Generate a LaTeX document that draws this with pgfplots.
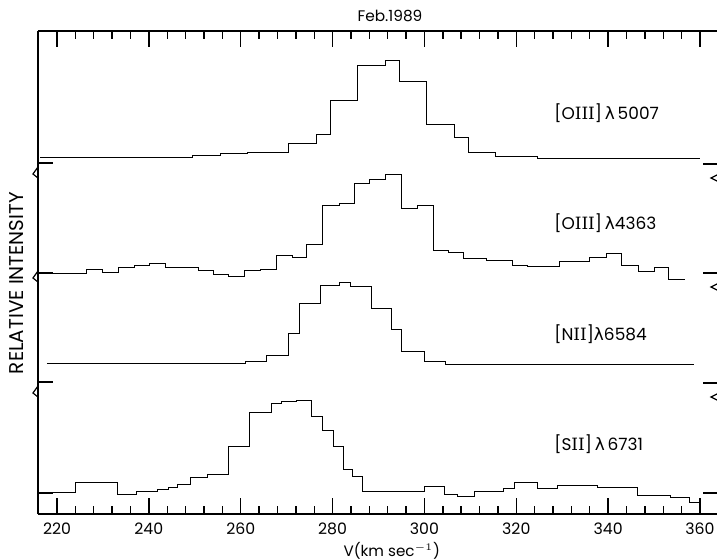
\documentclass[border=0pt]{standalone}
\usepackage{fontspec}
\setmainfont{Poppins}
\newfontfamily\symfont{DejaVu Sans}
\newfontfamily\romfont{DejaVu Serif}
\usepackage{pgfplots}
\pgfplotsset{compat=1.18}

\newcommand{\lam}{{\symfont λ}}
\newcommand{\rn}[1]{{\romfont #1}}

\begin{document}
\begin{tikzpicture}
\begin{axis}[
  scale only axis,
  width=339.5bp, height=241.5bp,
  xmin=215.86, xmax=363.7, ymin=0, ymax=483,
  axis x line*=box, axis y line*=left,
  axis line style={line width=0.8pt},
  xtick={220,240,...,360},
  minor xtick={216,220,...,360},
  ytick=\empty,
  tick align=inside,
  major tick length=8bp, minor tick length=4bp,
  every tick/.style={line width=0.7pt, black},
  xticklabel style={font=\fontsize{7.9}{9}\selectfont, yshift=-1bp},
  /pgf/number format/assume math mode=true,
  /pgf/number format/set thousands separator={},
  clip=false,
]
% [OIII] 5007
\addplot[const plot, black, line width=0.45pt] coordinates {
(216.3,357) (249.5,359) (255.5,360.3) (261.5,361.7) (270.5,370.7) (276.5,379.7)
(279.5,414) (285.5,449) (291.5,454) (294.5,433) (300.5,389.7) (306.5,376.7)
(309.5,362) (315.5,358) (324.5,355.3) (360,355.3)};
% [OIII] 4363
\addplot[const plot, black, line width=0.45pt] coordinates {
(216.3,241) (226.5,244.7) (229.8,241.3) (233.3,246.3) (236.8,248.7) (240.2,250.7)
(243.7,246.3) (250.7,243.3) (254.0,239.7) (257.4,237.3) (260.9,243.3) (264.4,244.7)
(267.7,258.7) (271.2,256.7) (274.4,269.7) (277.9,309) (281.4,310.7) (284.7,330.7)
(288.1,335) (291.6,340) (295.1,305.7) (298.4,308.7) (301.9,263.7) (305.3,261.7)
(308.6,255.3) (313.6,254) (319.1,248.7) (322.5,247.3) (329.3,253) (336.0,256.7)
(339.7,260.7) (343.0,248.7) (346.5,243) (350.0,246.3) (353.2,234.3) (356.7,234.3)};
% [NII] 6584
\addplot[const plot, black, line width=0.45pt] coordinates {
(217.8,151) (261.1,153) (265.7,159) (270.3,180.7) (272.7,210.7) (277.3,229)
(281.6,232) (283.8,227.7) (288.4,205.7) (292.9,185) (295.1,162.3) (299.9,152.3)
(304.5,150) (358.7,150)};
% [SII] 6731
\addplot[const plot, black, line width=0.45pt] coordinates {
(216,21.3) (224.1,31.3) (233.1,20) (237.4,22.3) (241.8,24.7) (244.2,26.7)
(246.3,30) (249.0,36.7) (252.7,40) (257.4,68) (262.0,101.3) (266.6,110.7)
(268.9,112.3) (272.2,114) (275.5,97.3) (277.7,84) (280.1,68) (282.3,44.7)
(284.4,38) (286.4,22.3) (299.9,27.3) (304.3,20) (307.1,18) (310.8,22.3)
(317.3,25.7) (319.7,31.3) (324.5,25.7) (328.9,29) (337.6,26.7) (346.3,19)
(353.5,16.3) (357.6,11.3) (360,11.3)};

% panel labels
\node[anchor=west, font=\fontsize{8.5}{10}\selectfont, inner sep=0pt] at (axis cs:328.2,401) {[O\rn{III}]\,\lam\,5007};
\node[anchor=west, font=\fontsize{8.5}{10}\selectfont, inner sep=0pt] at (axis cs:328.2,291) {[O\rn{III}]\,\lam4363};
\node[anchor=west, font=\fontsize{8.5}{10}\selectfont, inner sep=0pt] at (axis cs:328.2,180) {[N\rn{II}]\lam6584};
\node[anchor=west, font=\fontsize{8.5}{10}\selectfont, inner sep=0pt] at (axis cs:328.2,70) {[S\rn{II}]\,\lam\,6731};

% title and axis labels
\node[font=\fontsize{7.7}{9}\selectfont, inner sep=0pt] at (axis cs:292.5,498) {Feb.1989};
\node[font=\fontsize{7.6}{9}\selectfont, inner sep=0pt] at (axis cs:292.9,-36.5) {V(km sec$^{-1}$)};
\node[font=\fontsize{10}{12}\selectfont, inner sep=0pt, rotate=90] at (axis cs:211.1,231) {RELATIVE INTENSITY};

% panel separators: short ticks and break marks
\draw[line width=0.6pt] (axis cs:215.86,351) -- (axis cs:219.13,351);
\draw[line width=0.6pt] (axis cs:215.86,241) -- (axis cs:219.13,241);
\draw[line width=0.6pt] (axis cs:215.86,132) -- (axis cs:219.13,132);
\draw[line width=0.6pt] (axis cs:215.86,21) -- (axis cs:219.13,21);
\draw[line width=0.6pt] (axis cs:360.65,350) -- (axis cs:363.7,350);
\draw[line width=0.6pt] (axis cs:360.65,241) -- (axis cs:363.7,241);
\draw[line width=0.6pt] (axis cs:360.65,131) -- (axis cs:363.7,131);
\draw[line width=0.6pt] (axis cs:360.65,21) -- (axis cs:363.7,21);
\draw[line width=0.6pt] (axis cs:215.86,347) -- (axis cs:214.77,340) -- (axis cs:215.86,336);
\draw[line width=0.6pt] (axis cs:215.86,243) -- (axis cs:214.77,236) -- (axis cs:215.86,232);
\draw[line width=0.6pt] (axis cs:215.86,128) -- (axis cs:214.77,121) -- (axis cs:215.86,117);
\draw[line width=0.6pt] (axis cs:363.7,339) -- (axis cs:362.4,336) -- (axis cs:363.7,333);
\draw[line width=0.6pt] (axis cs:363.7,230) -- (axis cs:362.4,227) -- (axis cs:363.7,224);
\draw[line width=0.6pt] (axis cs:363.7,120) -- (axis cs:362.4,117) -- (axis cs:363.7,114);

\coordinate (bbA) at (axis cs:207.59,-45);
\coordinate (bbB) at (axis cs:363.7,514);
\end{axis}
\pgfresetboundingbox
\path (bbA) rectangle (bbB);
\end{tikzpicture}
\end{document}
